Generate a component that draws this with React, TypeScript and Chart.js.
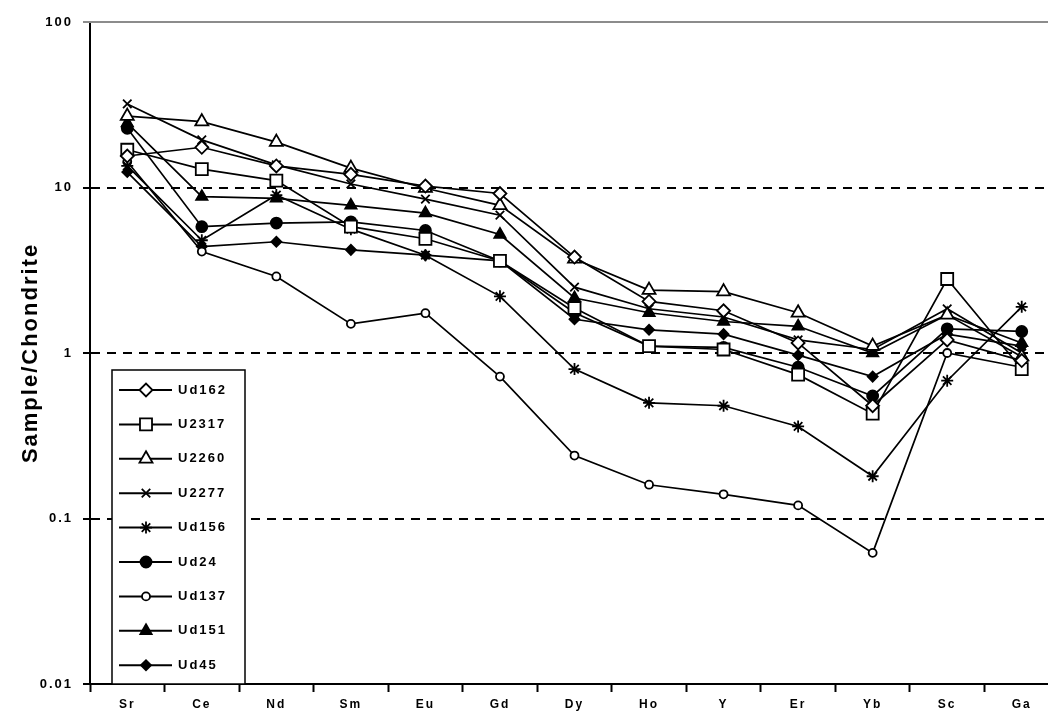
import React, { useEffect, useRef } from 'react';
import { Chart, registerables } from 'chart.js';
import { drawPoint } from 'chart.js/helpers';

Chart.register(...registerables);

// Elements along the x axis
const elements = ['Sr', 'Ce', 'Nd', 'Sm', 'Eu', 'Gd', 'Dy', 'Ho', 'Y', 'Er', 'Yb', 'Sc', 'Ga'];

// Decade ticks of the log axis and the levels that get a dashed rule
const yTicks = [0.01, 0.1, 1, 10, 100];
const dashedLevels = [0.1, 1, 10];

// Chondrite-normalised concentrations per sample
const ud162 = [15.5, 17.5, 13.5, 12.0, 10.2, 9.2, 3.8, 2.05, 1.8, 1.15, 0.48, 1.2, 0.9];
const u2317 = [16.9, 12.9, 11.0, 5.8, 4.9, 3.6, 1.87, 1.1, 1.05, 0.74, 0.43, 2.8, 0.8];
const u2260 = [27, 25, 18.8, 13.1, 9.9, 7.8, 3.7, 2.4, 2.35, 1.75, 1.1, 1.7, 0.95];
const u2277 = [32, 19.4, 13.7, 10.5, 8.5, 6.8, 2.5, 1.85, 1.65, 1.2, 1.05, 1.85, 1.0];
const ud156 = [13.5, 4.8, 9.0, 5.6, 3.9, 2.2, 0.8, 0.5, 0.48, 0.36, 0.18, 0.68, 1.9];
const ud24 = [22.8, 5.8, 6.1, 6.2, 5.5, 3.6, 1.75, 1.1, 1.08, 0.82, 0.55, 1.4, 1.35];
const ud137 = [14.3, 4.1, 2.9, 1.5, 1.74, 0.72, 0.24, 0.16, 0.14, 0.12, 0.062, 1.0, 0.82];
const ud151 = [24.5, 8.8, 8.6, 7.8, 7.0, 5.2, 2.15, 1.75, 1.55, 1.45, 1.0, 1.7, 1.15];
const ud45 = [12.4, 4.4, 4.7, 4.2, 3.9, 3.6, 1.6, 1.38, 1.3, 0.97, 0.72, 1.3, 1.1];

const FONT = '"Liberation Sans", Arial, sans-serif';
const WHITE = '#ffffff';
const BLACK = '#000000';

type Marker = { label: string; data: number[]; style: string; radius: number; fill: string };

const samples: Marker[] = [
  { label: 'Ud162', data: ud162, style: 'rectRot', radius: 6.5, fill: WHITE },
  { label: 'U2317', data: u2317, style: 'rect', radius: 8.5, fill: WHITE },
  { label: 'U2260', data: u2260, style: 'triangle', radius: 7.5, fill: WHITE },
  { label: 'U2277', data: u2277, style: 'crossRot', radius: 6, fill: WHITE },
  { label: 'Ud156', data: ud156, style: 'star', radius: 6, fill: BLACK },
  { label: 'Ud24', data: ud24, style: 'circle', radius: 5.5, fill: BLACK },
  { label: 'Ud137', data: ud137, style: 'circle', radius: 4, fill: WHITE },
  { label: 'Ud151', data: ud151, style: 'triangle', radius: 6.5, fill: BLACK },
  { label: 'Ud45', data: ud45, style: 'rectRot', radius: 5, fill: BLACK },
];

// Wider character spacing for every text drawn on the canvas
const spacedText = {
  id: 'spacedText',
  beforeDraw(chart: any) {
    (chart.ctx as any).letterSpacing = '2px';
  },
  afterDraw(chart: any) {
    (chart.ctx as any).letterSpacing = '0px';
  },
};

// Boxed legend in the lower-left corner plus the grey frame line along the top
const boxLegend = {
  id: 'boxLegend',
  afterDraw(chart: any) {
    const ctx: CanvasRenderingContext2D = chart.ctx;
    const area = chart.chartArea;
    ctx.save();
    ctx.strokeStyle = '#8c8c8c';
    ctx.lineWidth = 2;
    ctx.beginPath();
    ctx.moveTo(area.left - 7, area.top);
    ctx.lineTo(chart.width, area.top);
    ctx.stroke();

    const bx = 112;
    const by = 370;
    const bw = 133;
    const bh = area.bottom - by;
    ctx.fillStyle = WHITE;
    ctx.fillRect(bx, by, bw, bh);
    ctx.strokeStyle = BLACK;
    ctx.lineWidth = 1.5;
    ctx.strokeRect(bx, by, bw, bh);

    chart.data.datasets.forEach((ds: any, i: number) => {
      const y = 390 + i * 34.4;
      ctx.strokeStyle = BLACK;
      ctx.lineWidth = 2;
      ctx.beginPath();
      ctx.moveTo(119, y);
      ctx.lineTo(172, y);
      ctx.stroke();
      ctx.fillStyle = ds.pointBackgroundColor;
      ctx.strokeStyle = BLACK;
      ctx.lineWidth = 1.8;
      drawPoint(ctx, { pointStyle: ds.pointStyle, radius: ds.pointRadius, rotation: 0, borderWidth: 1.8 } as any, 146, y);
      ctx.fillStyle = BLACK;
      ctx.font = `bold 13px ${FONT}`;
      ctx.textAlign = 'left';
      ctx.textBaseline = 'middle';
      (ctx as any).letterSpacing = '2px';
      ctx.fillText(ds.label, 178, y);
    });
    ctx.restore();
  },
};

export default function App() {
  const canvasRef = useRef<HTMLCanvasElement>(null);

  useEffect(() => {
    const canvas = canvasRef.current;
    if (!canvas) return;
    const chart = new Chart(canvas, {
      type: 'line',
      data: {
        labels: elements,
        datasets: samples.map((s) => ({
          label: s.label,
          data: s.data,
          borderColor: BLACK,
          borderWidth: 1.7,
          pointStyle: s.style as any,
          pointRadius: s.radius,
          pointHoverRadius: s.radius,
          pointBackgroundColor: s.fill,
          pointBorderColor: BLACK,
          pointBorderWidth: 1.8,
          tension: 0,
          fill: false,
        })),
      },
      options: {
        responsive: false,
        animation: false,
        devicePixelRatio: 1,
        layout: { padding: { left: 0, right: 16, top: 22, bottom: 0 } },
        plugins: {
          legend: { display: false },
          tooltip: { enabled: false },
        },
        scales: {
          x: {
            type: 'category',
            offset: true,
            grid: {
              offset: true,
              drawOnChartArea: false,
              drawTicks: true,
              tickLength: 8,
              tickColor: BLACK,
              tickWidth: 2,
            },
            border: { color: BLACK, width: 2 },
            ticks: {
              color: BLACK,
              autoSkip: false,
              maxRotation: 0,
              padding: 5,
              font: { family: FONT, size: 12, weight: 'bold' },
            },
            afterFit: (s: any) => {
              s.height = 37;
            },
          },
          y: {
            type: 'logarithmic',
            min: 0.01,
            max: 100,
            afterBuildTicks: (s: any) => {
              s.ticks = yTicks.map((v) => ({ value: v }));
            },
            grid: {
              color: (c: any) => (dashedLevels.includes(c.tick?.value) ? BLACK : 'rgba(0,0,0,0)'),
              lineWidth: 2,
              tickColor: BLACK,
              tickLength: 7,
              tickWidth: 2,
            },
            border: { color: BLACK, width: 2, dash: [9, 7] },
            ticks: {
              color: BLACK,
              padding: 10,
              font: { family: FONT, size: 13, weight: 'bold' },
              callback: (v: any) => String(v),
            },
            title: {
              display: true,
              text: 'Sample/Chondrite',
              color: BLACK,
              font: { family: FONT, size: 22, weight: 'bold' },
              padding: { top: 18, bottom: 0 },
            },
            afterFit: (s: any) => {
              s.width = 90;
            },
          },
        },
      },
      plugins: [spacedText, boxLegend],
    } as any);
    return () => chart.destroy();
  }, []);

  return (
    <div
      style={{
        position: 'fixed',
        left: 0,
        top: 0,
        width: 1048,
        height: 721,
        overflow: 'hidden',
        background: WHITE,
      }}
    >
      <canvas ref={canvasRef} width={1075} height={721} style={{ display: 'block', width: 1075, height: 721 }} />
    </div>
  );
}
